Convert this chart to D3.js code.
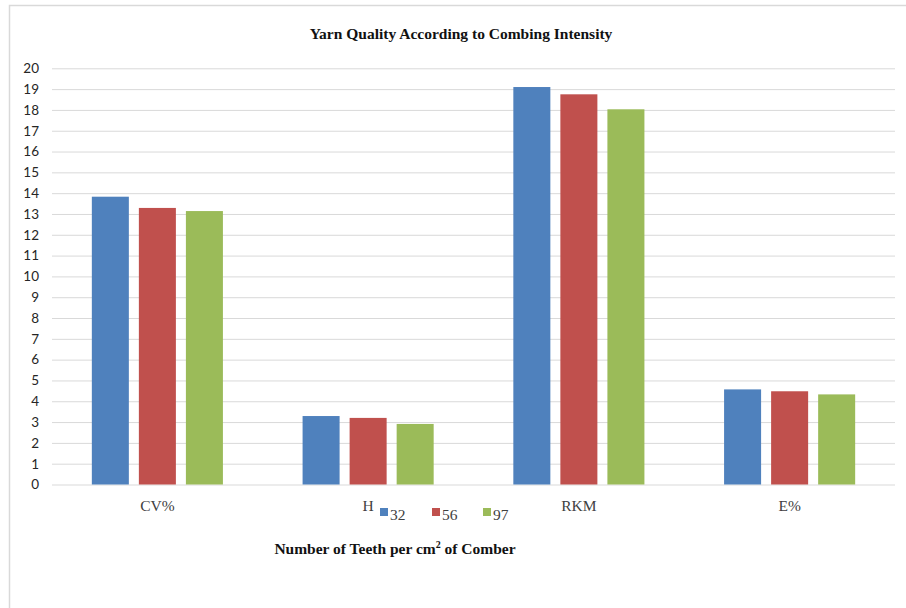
<!DOCTYPE html>
<html>
<head>
<meta charset="utf-8">
<script src="https://cdn.jsdelivr.net/npm/d3@7/dist/d3.min.js"></script>
<style>
  html, body { margin: 0; padding: 0; background: #ffffff; }
  svg { display: block; }
</style>
</head>
<body>
<svg id="chart" width="906" height="608"></svg>
<script>
// Yarn properties measured for each comber tooth density
const categories = ["CV%", "H", "RKM", "E%"];
const seriesNames = ["32", "56", "97"];
const values32 = [13.83, 3.29, 19.1, 4.57];
const values56 = [13.29, 3.2, 18.75, 4.48];
const values97 = [13.14, 2.91, 18.03, 4.33];
const yTicks = d3.range(0, 21, 1);
const colors = ["#4f81bd", "#c0504d", "#9bbb59"];

const seriesValues = [values32, values56, values97];
const rows = categories.map((c, i) => ({
  category: c,
  bars: seriesNames.map((s, j) => ({ series: s, value: seriesValues[j][i], color: colors[j] }))
}));

const svg = d3.select("#chart");
const plot = { left: 52, right: 895, top: 68.3, bottom: 484.5 };
const serif = "'Liberation Serif', 'Times New Roman', serif";

// Outer frame of the chart area
svg.append("rect")
  .attr("x", 9.5).attr("y", 5.5)
  .attr("width", 1000).attr("height", 1000)
  .attr("fill", "none").attr("stroke", "#d9d9d9").attr("stroke-width", 1.5);

const y = d3.scaleLinear().domain([0, 20]).range([plot.bottom, plot.top]);
const x0 = d3.scaleBand().domain(categories)
  .range([plot.left, plot.right]).paddingInner(0.378).paddingOuter(0.189);
const x1 = d3.scaleBand().domain(seriesNames)
  .range([0, x0.bandwidth()]).paddingInner(0.213).paddingOuter(0);

// Gridlines and value labels
const yAxis = d3.axisLeft(y).tickValues(yTicks).tickSize(-(plot.right - plot.left)).tickPadding(13);
const gy = svg.append("g").attr("transform", `translate(${plot.left},0)`).call(yAxis);
gy.select(".domain").remove();
gy.selectAll(".tick line").attr("stroke", "#d9d9d9").attr("stroke-width", 1);
gy.selectAll(".tick text")
  .attr("font-family", "Lato, 'Noto Sans', sans-serif")
  .attr("font-size", 13.5).attr("fill", "#262626");

// Grouped bars
const groups = svg.append("g").selectAll("g").data(rows).join("g")
  .attr("transform", d => `translate(${x0(d.category)},0)`);
groups.selectAll("rect").data(d => d.bars).join("rect")
  .attr("x", d => x1(d.series))
  .attr("y", d => y(d.value))
  .attr("width", x1.bandwidth())
  .attr("height", d => y(0) - y(d.value))
  .attr("fill", d => d.color);

// Category labels
const xAxis = d3.axisBottom(x0).tickSize(0).tickPadding(15);
const gx = svg.append("g").attr("transform", `translate(0,${plot.bottom})`).call(xAxis);
gx.select(".domain").remove();
gx.selectAll(".tick text")
  .attr("font-family", serif)
  .attr("font-size", 15.5).attr("fill", "#404040");

// Legend
const legendX = d3.scaleOrdinal().domain(seriesNames).range([380, 432, 483]);
const legend = svg.append("g").selectAll("g").data(seriesNames).join("g")
  .attr("transform", d => `translate(${legendX(d)},508)`);
legend.append("rect").attr("width", 8).attr("height", 8)
  .attr("fill", (d, i) => colors[i]);
legend.append("text").attr("x", 10).attr("y", 12)
  .attr("font-family", serif)
  .attr("font-size", 15.5).attr("fill", "#404040")
  .text(d => d);

// Titles
svg.append("text").attr("x", 461).attr("y", 39).attr("text-anchor", "middle")
  .attr("font-family", serif)
  .attr("font-weight", "bold").attr("font-size", 15.5).attr("fill", "#111")
  .text("Yarn  Quality According to Combing Intensity");

const xt = svg.append("text").attr("x", 395).attr("y", 554).attr("text-anchor", "middle")
  .attr("font-family", serif)
  .attr("font-weight", "bold").attr("font-size", 15.5).attr("fill", "#111");
xt.append("tspan").text("Number of Teeth per cm");
xt.append("tspan").attr("dy", -6).attr("font-size", 10).text("2");
xt.append("tspan").attr("dy", 6).text(" of Comber");
</script>
</body>
</html>
